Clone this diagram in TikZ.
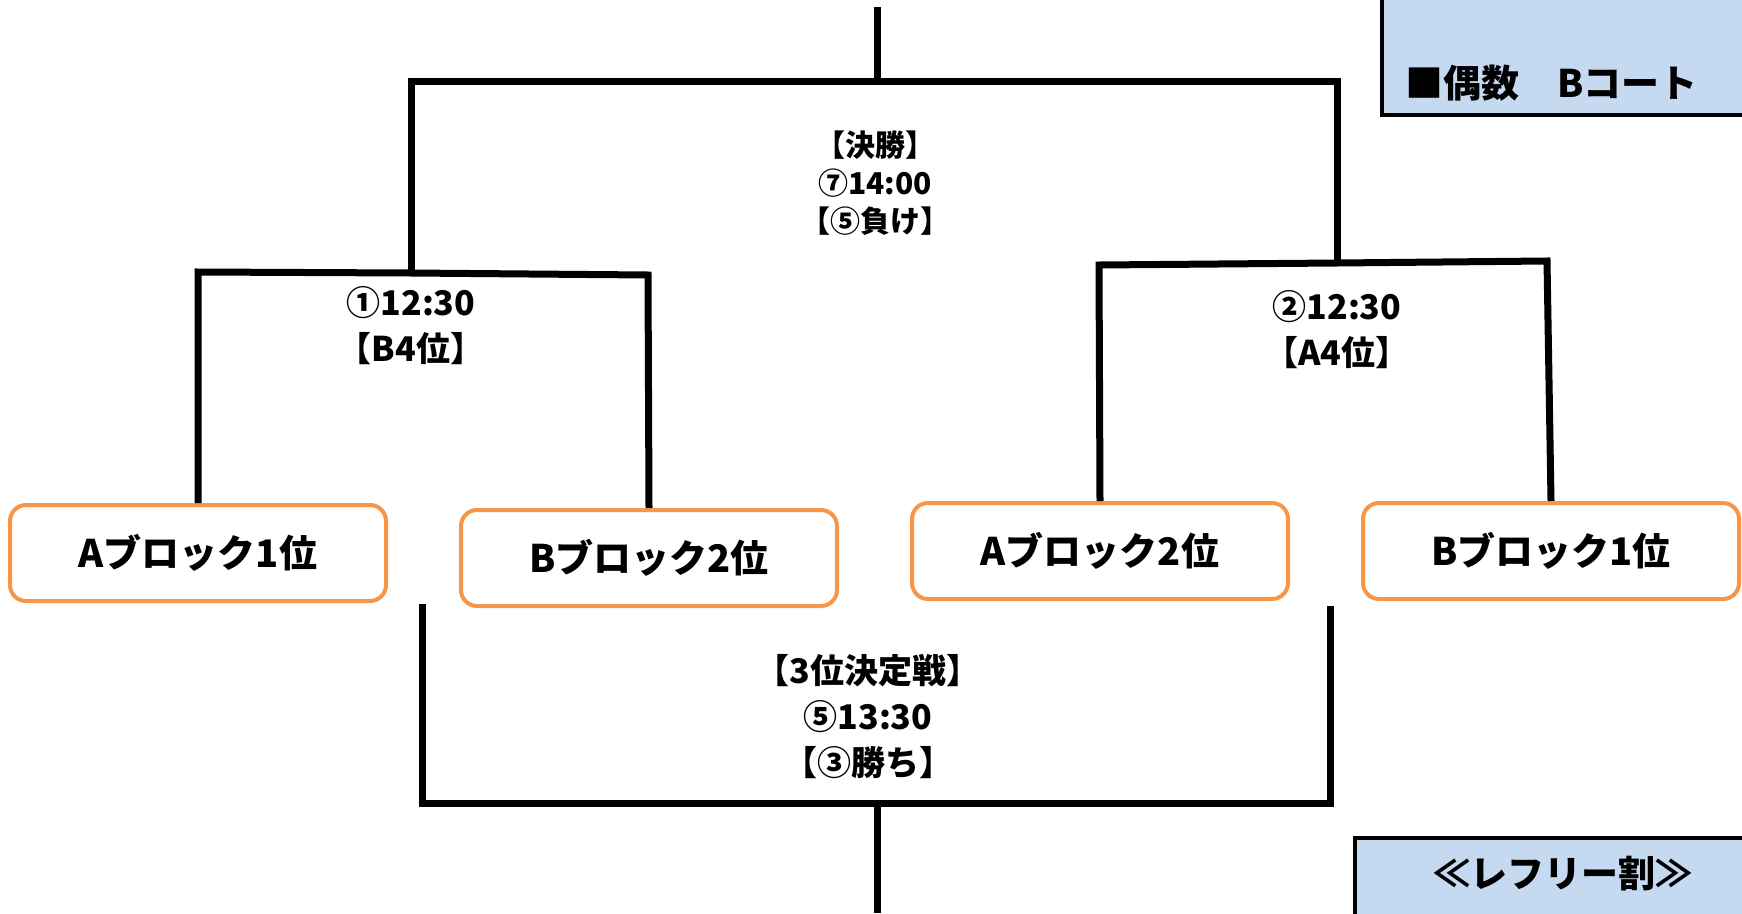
\documentclass[tikz,border=0pt]{standalone}
\usepackage{fontspec}
\setmainfont{Noto Sans CJK JP}
\definecolor{boxorange}{HTML}{F79646}
\definecolor{noteblue}{HTML}{C5D9F1}
\tikzset{
  team/.style={draw=boxorange, line width=4pt, rounded corners=16pt, fill=white,
    minimum width=376pt, minimum height=96pt, inner sep=0pt,
    font=\fontsize{38}{40}\selectfont\bfseries},
  bracket/.style={line width=7pt, line join=miter},
  matchlabel/.style={align=center, inner sep=0pt, font=\fontsize{34}{46}\selectfont\bfseries},
  notebox/.style={fill=noteblue, draw=black, line width=4pt}
}
\begin{document}
\begin{tikzpicture}[x=1pt, y=-1pt]
\useasboundingbox (0,0) rectangle (1742,913);

% note boxes
\draw[notebox] (1382,-20) rectangle (1765,115);
\node[anchor=west, inner sep=0pt, font=\fontsize{38}{40}\selectfont\bfseries] (court) at (1405,83) {■偶数　Bコート};
\draw[notebox] (1355,838) rectangle (1765,940);
\node[inner sep=0pt, font=\fontsize{37}{40}\selectfont\bfseries] (referee) at (1563,874) {≪レフリー割≫};

% teams
\node[team] (a1) at (198,553) {Aブロック1位};
\node[team] (b2) at (649,558) {Bブロック2位};
\node[team] (a2) at (1100,551) {Aブロック2位};
\node[team] (b1) at (1551,551) {Bブロック1位};

% bracket corners
\coordinate (top) at (877,7);
\coordinate (fin) at (877,81);
\coordinate (finl) at (411,81);
\coordinate (finr) at (1337,81);
\coordinate (sfl) at (411,273);
\coordinate (sfr) at (1337,263);
\coordinate (third) at (877,803);
\coordinate (bottom) at (877,913);

% semifinals
\draw[bracket] (a1.north) -- (198,272) -- (sfl) -- (648,275) -- (b2.north);
\draw[bracket] (a2.north) -- (1099,265) -- (sfr) -- (1547,261) -- (b1.north);
% final
\draw[bracket] (top) -- (fin);
\draw[bracket] (sfl) -- (finl) -- (finr) -- (sfr);
% third place
\draw[bracket] (422,604) -- (422,803) -- (1330,803) -- (1330,606);
\draw[bracket] (third) -- (bottom);

% labels
\node[matchlabel, font=\fontsize{30}{38}\selectfont\bfseries] (finlabel) at (875,183) {【決勝】\\⑦14:00\\【⑤負け】};
\node[matchlabel] (sf1label) at (411,326) {①12:30\\【B4位】};
\node[matchlabel] (sf2label) at (1337,330) {②12:30\\【A4位】};
\node[matchlabel] (thirdlabel) at (868,717) {【3位決定戦】\\⑤13:30\\【③勝ち】};
\end{tikzpicture}
\end{document}
